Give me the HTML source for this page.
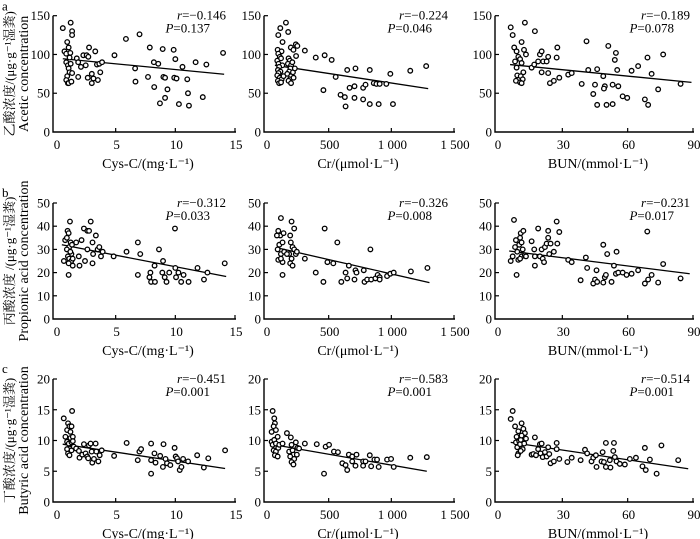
<!DOCTYPE html>
<html><head><meta charset="utf-8"><style>
html,body{margin:0;padding:0;background:#fff;}
svg{display:block;}
text{font-family:"Liberation Serif","Noto Serif CJK SC",serif;fill:#000;}
</style></head><body>
<svg id="chart" width="700" height="539" viewBox="0 0 700 539" xmlns="http://www.w3.org/2000/svg"></svg>
<script>
// ---- data ----
const rowLabels = ["a","b","c"];
const yTitleCN = ["乙酸浓度/(μg·g⁻¹湿粪)","丙酸浓度 /(μg·g⁻¹湿粪)","丁酸浓度/(μg·g⁻¹湿粪)"];
const yTitleEN = ["Acetic concentration","Propionic acid concentration","Butyric acid concentration"];
const xTitles = ["Cys-C/(mg·L⁻¹)","Cr/(μmol·L⁻¹)","BUN/(mmol·L⁻¹)"];
const xTickVals = [[0,5,10,15],[0,500,1000,1500],[0,30,60,90]];
const xTickLabels = [["0","5","10","15"],["0","500","1 000","1 500"],["0","30","60","90"]];
const yTickVals = [[0,50,100,150],[0,10,20,30,40,50],[0,5,10,15,20]];
const yTickLabels = [["0","50","100","150"],["0","10","20","30","40","50"],["0","5","10","15","20"]];
const rValues = [["−0.146","−0.224","−0.189"],["−0.312","−0.326","−0.231"],["−0.451","−0.583","−0.514"]];
const pValues = [["0.137","0.046","0.078"],["0.033","0.008","0.017"],["0.001","0.001","0.001"]];

const acCysX=[0.57,1.23,1.35,1.35,0.94,1.06,0.71,0.86,1.2,1.14,0.86,1,1.23,1.06,1.14,1.35,0.94,0.86,1,1.06,1.29,1.74,1.86,1.86,2.09,2.29,2.57,2.49,2.71,2.77,2.66,3,3,3.14,3.29,3.43,3.51,3.71,3.63,3.86,4.9,5.86,7,6.63,6.66,7.71,7.86,8.2,8.23,8.57,8.71,8.94,9,9.14,9.14,9.34,9.86,10,9.91,10.1,10.3,10.6,11,11.06,11.14,11.7,12.3,12.6,14];
const acCysY=[134,141,130,125,116,109,104,101,102,96,90,86,88,82,77,76,72,67,63,63,65,95,90,71,84,99,99,86,97,109,70,75,63,69,104,87,67,77,88,90,99,120,126,82,65,71,109,90,58,88,37,107,71,70,44,55,106,94,70,69,36,84,68,50,34,90,45,87,102];
const acCysFit=[0.57,94.5,14.09,74.5];

const acCrX=[159,114,98,177,132,93,124,198,219,238,98,110,90,120,100,130,105,95,115,100,90,110,125,95,105,120,140,180,190,175,200,210,195,185,170,200,215,190,220,180,230,240,200,250,310,397,468,524,458,556,595,629,635,648,667,706,714,706,775,775,794,828,828,860,881,899,907,960,992,1013,1151,1278];
const acCrY=[141,134,125,129,116,106,104,109,106,113,101,97,92,95,88,86,84,80,78,76,73,70,68,66,63,64,72,95,92,88,86,90,82,78,75,72,77,68,70,66,82,98,63,111,105,96,99,93,54,71,48,45,33,80,57,59,82,44,57,42,61,80,36,63,62,36,62,62,75,36,79,85];
const acCrFit=[71,86,1294,56];

const acBunX=[6.3,7.2,12.8,17.4,7.9,9,11.3,12.4,13.3,9.8,10.6,8.3,9,11.3,12.1,9.3,10.9,11.8,8.7,10.6,11.3,15.9,17.1,18.9,19.7,20.5,21.2,22.8,23.5,20.5,23.5,24.3,26.1,27.4,27.7,28.6,32.7,34.3,38.9,41.1,41.9,44.2,45,46,46,48.8,49.5,49.1,50.3,51.1,53.1,53.1,54.1,54.6,55.2,55.7,57.7,59.8,61.8,64.8,67.9,69.4,69.1,71,74,76.3,84.3];
const acBunY=[135,125,141,130,109,104,116,106,100,97,94,91,83,89,77,73,72,68,66,64,63,83,87,91,100,104,91,91,97,77,76,63,66,96,109,70,74,76,62,117,80,49,61,81,35,72,59,56,35,111,36,61,93,102,80,59,46,44,79,85,42,35,96,75,55,100,62];
const acBunFit=[6,87,89.3,64];

const prCysX=[0.66,0.77,0.91,0.97,1.06,1.11,1.17,1.23,1.29,0.91,1,1.11,1.29,1.06,1.2,1.4,1.34,1.06,1.4,1.69,1.91,1.97,2.14,2.34,2.43,2.63,2.77,2.91,2.63,3.06,3.06,3.11,3.34,3.49,3.63,3.77,3.91,4.83,5.91,6.86,7.06,6.86,7.91,7.83,7.97,8.26,8.29,8.63,8.97,8.91,9.11,9.26,9.49,9.97,10,10.06,10.26,10.49,10.69,11.11,11.86,12.4,12.69,14.14];
const prCysY=[25,34,35,38,37,31,42,33,28,30,27,26,25,24,29,26,32,19,23,33,27,23,34,39,25,38,38,42,30,33,24,28,36,30,31,27,29,27,29,33,28,19,20,18,16,23,16,30,25,20,18,16,20,39,22,18,20,16,19,16,22,17,20,24];
const prCysFit=[0.49,32,14.26,18.3];

const prCrX=[119,98,114,87,140,106,132,93,119,98,132,119,145,132,193,198,204,225,212,185,204,193,212,225,238,246,167,310,397,468,458,490,537,569,635,601,648,661,714,722,706,780,786,807,833,839,873,891,907,907,966,992,1019,1156,1288];
const prCrY=[43.5,38,36,36,37,32,33,30,28,25.5,24.5,26,29,19,36,33,42,39,31,28,26,24,23,30,28,29,28,26,20,39,16,24.5,24,33,20,16,17.5,23,21,20,17,21,16,17,30,17,17.5,19,18,17,18.5,19.5,20,20.5,22];
const prCrFit=[79,30.8,1304,15.7];

const prBunX=[7.8,6.3,7.2,8.3,8.7,9.3,9,9.8,10.2,10.6,10.9,11.3,11.8,12.1,11.3,12.8,13.3,10.6,15.9,17.1,17.4,17.4,18.9,19.7,20.5,21,21.6,22,22.8,23.5,23.5,24,24.6,26.1,27.4,27.7,28.6,32.7,34.3,38.4,40.8,41.4,44.2,45,45.7,46,48.8,49.5,48.8,50,50.6,52.6,53.7,54.6,54.9,55.7,57.7,59.5,61.8,64.8,67.9,69,69.4,71,74,76.3,84.3];
const prBunY=[42.7,25,27,31,34,29,19,25.5,32,35,37,33,30,38,27,27.5,27,26,33.5,30,27,23,39,27,30,26,24.5,31,32.5,38,35,28,32.5,29,42,32.5,37.5,25.5,24.5,16.7,26.5,22,15.3,17,21,16,15.7,18,32,19,28,16,23,19.5,29,20,20,19,19.5,21,15.3,37.7,17,19,15.7,23.7,17.5];
const prBunFit=[5.6,29.3,88.5,19.5];

const buCysX=[0.65,0.79,0.93,1.01,1.13,1.21,1.3,1.35,0.93,1.07,1.21,1.3,1.41,1.13,1.01,1.13,1.3,1.49,0.93,1.41,1.69,1.92,1.97,2.2,2.34,2.48,2.62,2.76,2.9,2.99,2.7,3.04,3.18,3.32,3.38,3.55,3.66,3.83,4.87,5.92,6.85,6.99,7.13,7.97,7.97,7.97,8.25,8.34,8.73,9.01,8.96,9.18,9.3,9.58,9.94,10.03,10.14,10.23,10.37,10.51,10.65,11.07,11.83,12.39,12.76,14.17];
const buCysY=[13.6,10.6,11.7,12.8,12.3,11.4,12.3,14.8,9.8,9.5,10.4,9.7,10.6,8.7,7.9,7.6,8.4,9,8.6,9.9,8.7,8.3,7.2,7.7,9.4,7.9,7.4,9.2,9.5,8.2,7.1,6.4,7,9.5,8.2,6.6,7.6,8.4,7.5,9.6,6.8,8.2,8.6,9.5,6.8,4.6,7.9,6.4,7.5,9.4,5.7,7,6.3,6,8.8,7.4,7.1,6.6,5.2,5.7,7,6.6,7.6,5.6,7.1,8.4];
const buCysFit=[0.56,9.4,14.17,5.45];

const buCrX=[53,66,71,61,45,79,45,66,53,79,93,61,79,98,71,93,106,132,167,198,204,185,212,219,193,225,204,219,238,251,246,264,310,405,476,503,463,542,574,609,635,648,661,688,688,722,714,775,775,794,828,839,865,886,899,966,998,1019,1151,1283];
const buCrY=[14.8,13.6,12.8,12.3,11.4,11.7,9.8,10.1,9.3,9.5,10.6,8.4,8.2,8.8,7.6,7.4,9.3,9.5,11.2,10.5,9.3,8.2,8.4,7.7,7.4,7,6.5,6.1,9.7,8.8,7.7,8.7,9.5,9.4,9,9.3,4.6,8.2,8.1,6.3,6,5.2,7.7,7.4,6.6,7.7,5.9,6.6,5.9,6.6,7.6,5.8,6.9,6.9,5.7,6.9,7,5.7,7.2,7.3];
const buCrFit=[93,9.2,1283,5.0];

const buBunX=[6.3,7.2,8.3,9,9.8,8.7,9.3,9.8,9.5,10.2,10.6,10.9,11.3,11.8,10.9,12.1,12.8,13.3,12.5,11.3,15.9,16.7,17.4,17.9,18.9,19.7,20.5,20,21,22,22.8,23.5,24,24.6,26.1,27.4,27.4,28.6,32.3,34.3,38.4,40.4,41.4,43.4,44.2,45.4,45.7,48,48.5,49.1,50,50,51.8,52.1,53.4,53.7,54.1,54.9,56.4,58.7,61,63.8,66.8,67.9,68.3,70.2,73.3,75.5,83.2];
const buBunY=[13.5,14.8,12.3,10.6,11.5,9.7,8.9,7.9,7.6,9.9,9.4,10.1,12.8,8.6,8.3,11.9,11.2,10.3,9.5,10.8,7.7,7.8,10.5,7.6,8.6,9.4,9.5,7.9,7.3,8.1,7.4,8.9,7.8,6.3,6.6,9.6,8.6,7,6.5,7.2,6.8,8.5,7.9,6.6,7.2,7.6,5.7,6.6,8.1,6.5,9.6,5.7,6.8,5.6,8.3,9.6,7.3,6.6,6.2,6.1,7,7.2,5.8,8.8,5.2,6.9,4.6,9.2,6.8];
const buBunFit=[6.3,9.7,87.8,5.4];

const seriesX=[[acCysX,acCrX,acBunX],[prCysX,prCrX,prBunX],[buCysX,buCrX,buBunX]];
const seriesY=[[acCysY,acCrY,acBunY],[prCysY,prCrY,prBunY],[buCysY,buCrY,buBunY]];
const fits=[[acCysFit,acCrFit,acBunFit],[prCysFit,prCrFit,prBunFit],[buCysFit,buCrFit,buBunFit]];
const xMax=[15,1500,90];
const yMax=[150,50,20];

// ---- layout (pixels) ----
const colAxisX=[53,264,495];
const colX0=[56,266,497];
const colX1=[235,454,693];
const colTitleX=[148,358,598];
const colRText=[226,448,690];
const rowTop=[15.7,203,379];
const rowBottom=[132,319,502];
const nameKeys=[["acetic","propionic","butyric"],["cysc","cr","bun"]];

const NS="http://www.w3.org/2000/svg";
const svg=document.getElementById('chart');
function mk(tag,attrs,parent,txt){const e=document.createElementNS(NS,tag);for(const k in attrs)e.setAttribute(k,attrs[k]);if(txt!==undefined)e.textContent=txt;(parent||svg).appendChild(e);return e;}

for(let r=0;r<3;r++){
  const lab=mk('text',{x:2,y:rowTop[r]-6+(r===0?1:0),'font-size':13},svg,rowLabels[r]);
  
  
  const cy=(rowTop[r]+rowBottom[r])/2;
  const t1=mk('text',{x:0,y:0,'font-size':13,'text-anchor':'middle',transform:`translate(14,${cy}) rotate(-90)`},svg,yTitleCN[r]);
  
  
  const t2=mk('text',{x:0,y:0,'font-size':14,'text-anchor':'middle',transform:`translate(28,${cy}) rotate(-90)`},svg,yTitleEN[r]);
  
  
  for(let c=0;c<3;c++){
    const g=mk('g',{});
    
    
    const sx=v=>colX0[c]+v/xMax[c]*(colX1[c]-colX0[c]);
    const sy=v=>rowBottom[r]-v/yMax[r]*(rowBottom[r]-rowTop[r]);
    const ax=mk('path',{d:`M${colAxisX[c]},${rowTop[r]}V${rowBottom[r]}H${colX1[c]+1}`,fill:'none',stroke:'#000','stroke-width':1.4},g);
    
    
    yTickVals[r].forEach((v,i)=>{
      const y=sy(v);
      if(i>0) mk('line',{x1:colAxisX[c],x2:colAxisX[c]+4,y1:y,y2:y,stroke:'#000','stroke-width':1.2},g);
      const t=mk('text',{x:colAxisX[c]-3,y:y+4.5,'font-size':13,'text-anchor':'end'},g,yTickLabels[r][i]);
      
      
    });
    xTickVals[c].forEach((v,i)=>{
      const x=sx(v);
      if(i>0) mk('line',{x1:x,x2:x,y1:rowBottom[r],y2:rowBottom[r]-4,stroke:'#000','stroke-width':1.2},g);
      const t=mk('text',{x:x+1,y:rowBottom[r]+17,'font-size':13,'text-anchor':'middle'},g,xTickLabels[c][i]);
      
      
    });
    const xt=mk('text',{x:colTitleX[c],y:rowBottom[r]+36,'font-size':14,'text-anchor':'middle'},g,xTitles[c]);
    
    
    const rt=mk('text',{x:colRText[c],y:rowTop[r]+4,'font-size':13,'text-anchor':'end'},g);
    
    
    mk('tspan',{'font-style':'italic'},rt,'r');
    mk('tspan',{},rt,'='+rValues[r][c]);
    const pt=mk('text',{x:colRText[c]-16,y:rowTop[r]+17,'font-size':13,'text-anchor':'end'},g);
    
    
    mk('tspan',{'font-style':'italic'},pt,'P');
    mk('tspan',{},pt,'='+pValues[r][c]);
    const f=fits[r][c];
    const fl=mk('line',{x1:sx(f[0]),y1:sy(f[1]),x2:sx(f[2]),y2:sy(f[3]),stroke:'#000','stroke-width':1.3},g);
    
    
    const xs=seriesX[r][c], ys=seriesY[r][c];
    for(let i=0;i<xs.length;i++){
      const p=mk('circle',{cx:sx(xs[i]),cy:sy(ys[i]),r:2.3,fill:'#fff',stroke:'#000','stroke-width':1.3},g);
      
      
    }
  }
}
</script>
</body></html>
